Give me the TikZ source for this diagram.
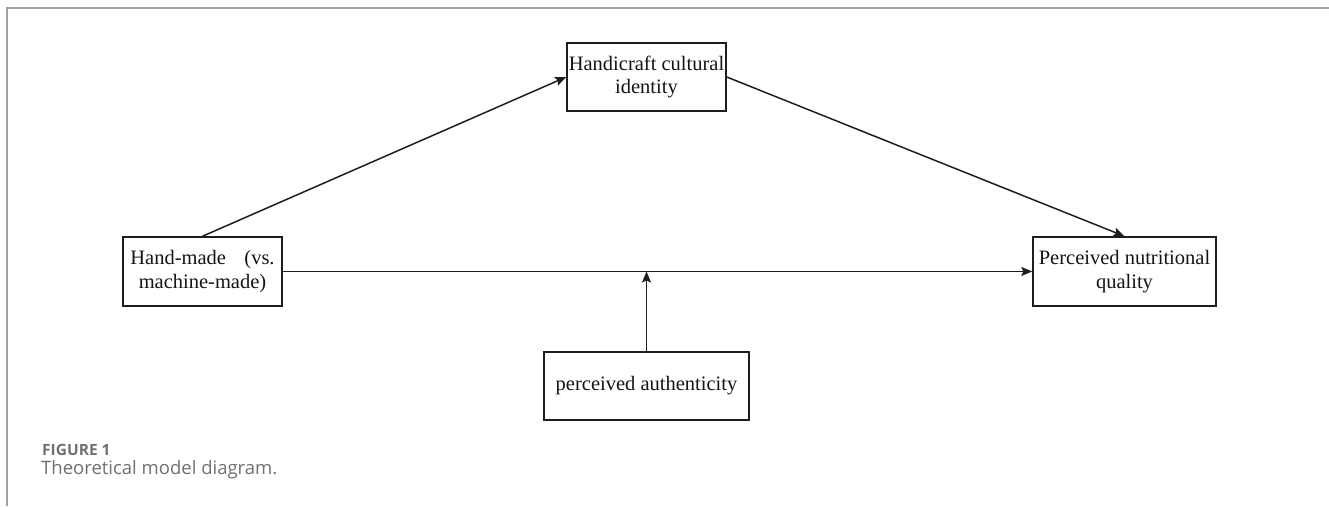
\documentclass[tikz,border=0pt]{standalone}
\usepackage{fontspec}
\setmainfont{Liberation Serif}
\newfontfamily\capfont{Open Sans}
\usetikzlibrary{arrows.meta}
\definecolor{framegray}{HTML}{A0A0A0}
\definecolor{capgray}{HTML}{707070}
\definecolor{boxline}{HTML}{1E1E1E}
\tikzset{
  mbox/.style={draw=boxline, line width=1.5pt, inner sep=0pt, align=center,
    font=\fontsize{20.5}{23.5}\selectfont, text=black!92},
  conn/.style={draw=boxline, line width=1.5pt, -{Stealth[length=11pt,width=9pt,inset=2pt]}},
  frameline/.style={draw=framegray, line width=1.4pt}
}
\begin{document}
\begin{tikzpicture}[x=1pt,y=-1pt]
\useasboundingbox (0,0) rectangle (1329,506);
% frame
\coordinate (f1) at (1329,8);
\coordinate (f2) at (7,8);
\coordinate (f3) at (7,506);
\draw[frameline] (f1) -- (f2) -- (f3);
% boxes
\node[mbox, minimum width=159pt, minimum height=69pt] (hm) at (202.5,271.5) {Hand-made\hspace{0.9em}(vs.\\machine-made)};
\node[mbox, minimum width=159pt, minimum height=68pt] (hc) at (646.5,77) {Handicraft cultural\\identity};
\node[mbox, minimum width=183pt, minimum height=69pt] (pn) at (1124.5,271.5) {Perceived nutritional\\quality};
\node[mbox, minimum width=205pt, minimum height=68pt] (pa) at (646.5,386) {perceived authenticity};
% connectors
\draw[conn] (hm.north) -- (hc.west);
\draw[conn] (hc.east) -- (pn.north);
\draw[conn] (hm.east) -- (pn.west);
\coordinate (mid) at (pa.north |- hm.east);
\draw[conn] (pa.north) -- (mid);
% caption
\node[anchor=base west, inner sep=0pt, text=capgray, font=\capfont\fontsize{15.5}{17}\selectfont\bfseries] (figlab) at (42,455) {FIGURE 1};
\node[anchor=base west, inner sep=0pt, text=capgray, font=\capfont\fontsize{18.5}{22}\selectfont] (figcap) at (41,474) {Theoretical model diagram.};
\end{tikzpicture}
\end{document}
